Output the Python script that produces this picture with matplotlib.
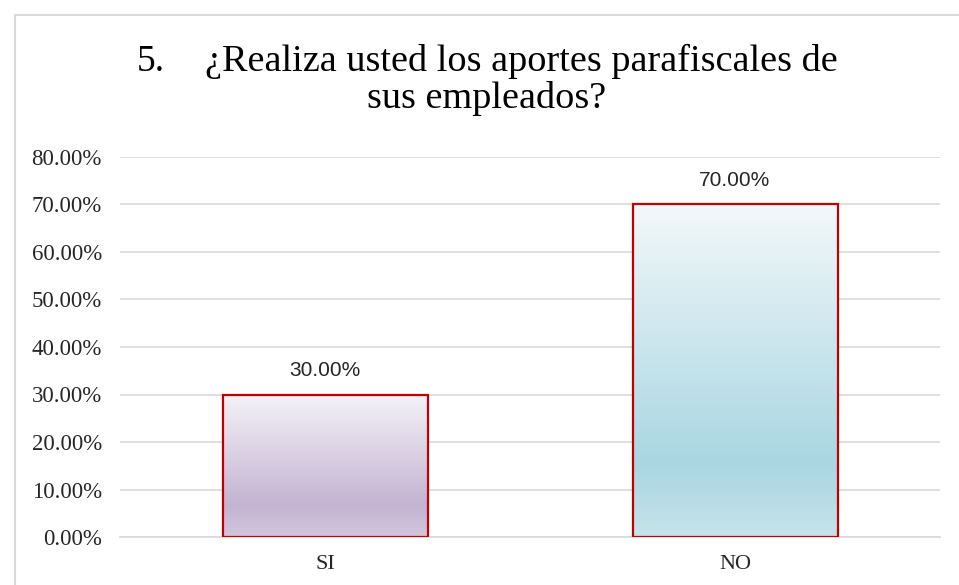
import numpy as np
import matplotlib
matplotlib.use("Agg")
from matplotlib import pyplot as plt
from matplotlib.colors import LinearSegmentedColormap
from matplotlib.patches import Rectangle

categories = ["SI", "NO"]
values = [30.0, 70.0]
labels = ["30.00%", "70.00%"]
title_num = "5."
title_l1 = "¿Realiza usted los aportes parafiscales de"
title_l2 = "sus empleados?"

# gradient colours: top -> darkest -> bottom
grad_colors = [
    ["#f4f2f7", "#c4b3d2", "#d2c5dd"],
    ["#f3f8fa", "#a9d6e2", "#c6e3ea"],
]

plt.rcParams['font.family'] = ['Liberation Serif', 'DejaVu Serif']

W, H = 959, 585
fig = plt.figure(figsize=(W/100, H/100), dpi=100)
ax = fig.add_axes([120/W, 1 - 537/H, 820/W, 380/H])

# chart frame
fig.patches.append(Rectangle((15/W, -0.1), 1.1, 1 - 15/H + 0.1,
                             transform=fig.transFigure, fill=False,
                             edgecolor="#d9d9d9", linewidth=1.5))

x = np.arange(len(categories))
bars = ax.bar(x, values, width=0.5, color="none", edgecolor="#c00000",
              linewidth=1.6, zorder=3)

for b, cols in zip(bars, grad_colors):
    cmap = LinearSegmentedColormap.from_list("g", [(0, cols[2]), (0.22, cols[1]), (1, cols[0])])
    grad = np.linspace(0, 1, 256).reshape(-1, 1)
    x0, y0 = b.get_x(), b.get_y()
    im = ax.imshow(grad, cmap=cmap, origin="lower", aspect="auto",
                   extent=[x0, x0 + b.get_width(), y0, y0 + b.get_height()],
                   zorder=2)
    im.set_clip_path(b)

for b, lab in zip(bars, labels):
    ax.text(b.get_x() + b.get_width()/2, b.get_height() + 5, lab,
            ha="center", va="center", fontsize=15, family="Liberation Sans",
            color="#262626")

ax.set_xlim(-0.5, 1.5)
ax.set_ylim(0, 80)
ax.set_yticks(np.arange(0, 81, 10))
ax.set_yticklabels([f"{v:.2f}%" for v in np.arange(0, 81, 10)], fontsize=16.5)
ax.set_xticks(x)
ax.set_xticklabels(categories, fontsize=16)
ax.tick_params(length=0, colors="#262626")
ax.tick_params(axis="y", pad=13)
ax.tick_params(axis="x", pad=13)
ax.yaxis.grid(True, color="#d9d9d9", linewidth=1.2, zorder=0)
ax.set_axisbelow(True)
for s in ["top", "right", "left"]:
    ax.spines[s].set_visible(False)
ax.spines["bottom"].set_color("#d9d9d9")
ax.spines["bottom"].set_linewidth(1.2)

fig.text(137/W, 1 - 71/H, title_num, ha="left", va="baseline", fontsize=27)
fig.text(205/W, 1 - 71/H, title_l1, ha="left", va="baseline", fontsize=27.5)
fig.text(487/W, 1 - 108/H, title_l2, ha="center", va="baseline", fontsize=27.5)

fig.savefig("out.png", dpi=100)
